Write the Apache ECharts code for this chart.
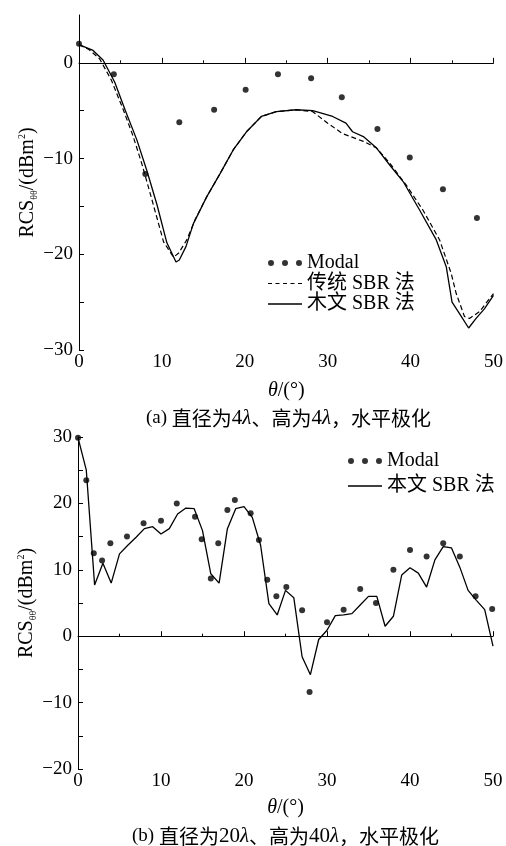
<!DOCTYPE html>
<html lang="zh">
<head>
  <meta charset="UTF-8" />
  <title>RCS 对比</title>
  <script src="https://cdn.jsdelivr.net/npm/echarts@6/dist/echarts.min.js"></script>
  <style>
    html, body { margin: 0; padding: 0; background: #fff; }
    #main { width: 506px; height: 846px; }
  </style>
</head>
<body>
  <div id="main"></div>
  <script>
    // (a) 直径 4λ
    const modalAX = [0, 4.2, 8, 12.1, 16.3, 20.1, 24, 28, 31.7, 36, 39.9, 43.9, 48];
    const modalAY = [2.0, -1.2, -11.6, -6.2, -4.9, -2.8, -1.2, -1.6, -3.6, -6.9, -9.9, -13.2, -16.2];

    const tradAX = [0, 1.2, 2.5, 3.9, 5.3, 6.5, 7.6, 8.8, 10.2, 11.4, 12, 13, 14, 15.4, 17, 18.6, 20.2, 22, 23.8, 26.2, 28.2, 30, 31.8, 34.3, 35.9, 37.5, 39.5, 41.5, 43.5, 44.9, 45.5, 46.5, 47.1, 48.3, 50];
    const tradAY = [1.9, 1.4, 0.4, -1.8, -4.8, -7.6, -10.6, -14.3, -18.7, -20.3, -19.9, -18.5, -16.4, -14, -11.6, -9.1, -7.2, -5.6, -5.1, -4.9, -5.1, -6.3, -7.4, -8.2, -8.9, -10.5, -12.8, -15.4, -18.5, -22, -24.1, -26.5, -26.7, -26, -24.1];

    const oursAX = [0, 1.7, 2.9, 4.3, 5.6, 7, 8.2, 9.4, 10.6, 11.7, 12.1, 12.9, 13.8, 15.4, 17, 18.6, 20.2, 22, 23.8, 26.2, 28.2, 30.6, 32.2, 33, 34.3, 35.9, 37.5, 39.1, 41.1, 43.1, 44.3, 45, 45.9, 47, 47.9, 48.9, 50];
    const oursAY = [1.9, 1.3, 0.3, -2.0, -5.0, -8.1, -11.3, -14.8, -18.8, -20.8, -20.6, -19.2, -16.8, -14, -11.6, -9.1, -7.2, -5.6, -5.1, -4.9, -5.0, -5.6, -6.3, -7.2, -7.7, -8.9, -10.7, -12.4, -15.4, -18.5, -21.3, -25, -26.2, -27.7, -26.7, -25.7, -24.3];

    // (b) 直径 20λ
    const modalBX = [0, 1, 1.9, 2.9, 3.9, 5.9, 7.9, 10, 11.9, 14.1, 14.9, 16, 16.9, 18, 18.9, 20.8, 21.8, 22.8, 23.9, 25.1, 27, 27.9, 30, 32, 34, 35.9, 38, 40, 42, 44, 46, 47.9, 49.9];
    const modalBY = [29.9, 23.5, 12.5, 11.4, 14.0, 15.0, 17.0, 17.4, 20.0, 18.0, 14.6, 8.7, 14.0, 19.0, 20.5, 18.5, 14.5, 8.5, 6.0, 7.4, 3.9, -8.4, 2.1, 4.0, 7.1, 5.0, 10.0, 13.0, 12.0, 14.0, 12.0, 6.0, 4.1];

    const oursBX = [0, 1, 2, 3, 4, 5, 6, 7, 8, 9, 10, 11, 12, 13, 14, 15, 16, 17, 18, 19, 20, 21, 22, 23, 24, 25, 26, 27, 28, 29, 30, 31, 32, 33, 34, 35, 36, 37, 38, 39, 40, 41, 42, 43, 44, 45, 46, 47, 48, 49, 50];
    const oursBY = [29.9, 25, 7.7, 11.0, 8.0, 12.4, 13.7, 14.9, 16.2, 16.5, 15.4, 16.2, 18.4, 19.3, 19.2, 15.9, 9.4, 8.0, 16.2, 19.2, 19.5, 17.9, 13.7, 4.9, 3.2, 6.9, 5.8, -3.1, -5.8, -0.5, 0.9, 3.1, 3.2, 3.4, 4.7, 6.0, 6.0, 1.5, 3.0, 9.2, 10.3, 9.5, 7.4, 11.5, 13.5, 13.3, 10.4, 6.9, 5.4, 4.0, -1.5];

    const yTicksA = [-30, -25, -20, -15, -10, -5, 0];
    const yTicksB = [-20, -15, -10, -5, 0, 5, 10, 15, 20, 25, 30];

    const pairs = (xs, ys) => xs.map((x, i) => [x, ys[i]]);

    const FONT = '"Liberation Serif", "Noto Sans CJK SC", serif';
    const iconDots = 'path://M0,3A3,3 0 1,0 6,3A3,3 0 1,0 0,3ZM14,3A3,3 0 1,0 20,3A3,3 0 1,0 14,3ZM28,3A3,3 0 1,0 34,3A3,3 0 1,0 28,3Z';
    const iconDash = 'path://M0,0h4v1.2h-4zM7.5,0h4v1.2h-4zM15,0h4v1.2h-4zM22.5,0h4v1.2h-4zM30,0h4v1.2h-4z';
    const iconLine = 'path://M0,0h34v1.3h-34z';

    const chart = echarts.init(document.getElementById('main'), null, { renderer: 'canvas' });

    function xAxisOf(gridIndex, gap) {
      return {
        type: 'value', gridIndex: gridIndex, min: 0, max: 50, interval: 10,
        name: '{i|θ}/(°)', nameLocation: 'middle', nameGap: gap,
        nameTextStyle: { color: '#000', fontFamily: FONT, fontSize: 20, rich: { i: { fontStyle: 'italic', fontFamily: FONT, fontSize: 20 } } },
        axisLine: { lineStyle: { color: '#000', width: 1 } },
        axisTick: { inside: true, length: 5, lineStyle: { color: '#000' } },
        minorTick: { show: true, splitNumber: 2, length: 2.5, lineStyle: { color: '#000' } },
        axisLabel: { color: '#000', fontFamily: FONT, fontSize: 19, margin: 3 },
        splitLine: { show: false }
      };
    }

    function yAxisOf(gridIndex, min, max, ticks) {
      return {
        type: 'value', gridIndex: gridIndex, min: min, max: max, interval: 10,
        name: '{a|RCS}{b|θθ}{a|/(dBm}{c|2}{a|)}', nameLocation: 'middle', nameGap: 40,
        nameMoveOverlap: false,
        nameTextStyle: {
          color: '#000', fontFamily: FONT, fontSize: 20,
          rich: {
            a: { fontFamily: FONT, fontSize: 20, lineHeight: 22, verticalAlign: 'middle' },
            b: { fontFamily: FONT, fontSize: 10, lineHeight: 22, verticalAlign: 'bottom' },
            c: { fontFamily: FONT, fontSize: 10, lineHeight: 22, verticalAlign: 'top' }
          }
        },
        axisLine: { show: true, lineStyle: { color: '#000', width: 1 } },
        axisTick: { show: true, inside: true, length: 5, customValues: ticks, lineStyle: { color: '#000' } },
        axisLabel: {
          color: '#000', fontFamily: FONT, fontSize: 19, margin: 6, showMaxLabel: max % 10 === 0,
          formatter: v => String(v).replace('-', '−')
        },
        splitLine: { show: false }
      };
    }

    const captionStyle = {
      fontFamily: FONT, fontSize: 19, fontWeight: 'normal', color: '#000',
      rich: {
        c: { fontFamily: '"Noto Sans CJK SC", sans-serif', fontSize: 20, color: '#000' },
        n: { fontFamily: FONT, fontSize: 21, color: '#000' },
        l: { fontFamily: FONT, fontSize: 21, fontStyle: 'italic', color: '#000' }
      }
    };

    const legendText = { fontFamily: FONT, fontSize: 20, color: '#000', lineHeight: 20 };

    const option = {
      backgroundColor: '#fff',
      animation: false,
      textStyle: { fontFamily: FONT, color: '#000' },
      title: [
        { text: '(a) {c|直径为}{n|4}{l|λ}{c|、高为}{n|4}{l|λ}{c|，水平极化}', left: 141, top: 403, textStyle: captionStyle },
        { text: '(b) {c|直径为}{n|20}{l|λ}{c|、高为}{n|40}{l|λ}{c|，水平极化}', left: 127, top: 821, textStyle: captionStyle }
      ],
      grid: [
        { left: 79, right: 12, top: 15, height: 335 },
        { left: 78, right: 13, top: 437, height: 332 }
      ],
      legend: [
        {
          orient: 'vertical', left: 268, top: 253, padding: 0, itemWidth: 34, itemHeight: 6, itemGap: 0.5,
          symbolKeepAspect: true, textStyle: legendText,
          data: [{ name: 'Modal', icon: iconDots }, { name: '传统 SBR 法', icon: iconDash }, { name: '木文 SBR 法', icon: iconLine }]
        },
        {
          orient: 'vertical', left: 348, top: 451, padding: 0, itemWidth: 34, itemHeight: 6, itemGap: 5,
          symbolKeepAspect: true, textStyle: legendText,
          data: [{ name: 'Modal', icon: iconDots }, { name: '本文 SBR 法', icon: iconLine }]
        }
      ],
      xAxis: [xAxisOf(0, 31), xAxisOf(1, 29)],
      yAxis: [yAxisOf(0, -30, 5, yTicksA), yAxisOf(1, -20, 30, yTicksB)],
      series: [
        {
          name: 'Modal', type: 'scatter', xAxisIndex: 0, yAxisIndex: 0,
          symbolSize: 6, itemStyle: { color: '#000' }, data: pairs(modalAX, modalAY)
        },
        {
          name: '传统 SBR 法', type: 'line', xAxisIndex: 0, yAxisIndex: 0, symbol: 'none',
          lineStyle: { color: '#000', width: 1.2, type: [5, 3] }, itemStyle: { color: '#000' },
          data: pairs(tradAX, tradAY)
        },
        {
          name: '木文 SBR 法', type: 'line', xAxisIndex: 0, yAxisIndex: 0, symbol: 'none',
          lineStyle: { color: '#000', width: 1.3 }, itemStyle: { color: '#000' },
          data: pairs(oursAX, oursAY)
        },
        {
          name: 'Modal', type: 'scatter', xAxisIndex: 1, yAxisIndex: 1,
          symbolSize: 6, itemStyle: { color: '#000' }, data: pairs(modalBX, modalBY)
        },
        {
          name: '本文 SBR 法', type: 'line', xAxisIndex: 1, yAxisIndex: 1, symbol: 'none',
          lineStyle: { color: '#000', width: 1.3 }, itemStyle: { color: '#000' },
          data: pairs(oursBX, oursBY)
        }
      ]
    };

    chart.setOption(option);
    window.addEventListener('resize', () => chart.resize());
  </script>
</body>
</html>
